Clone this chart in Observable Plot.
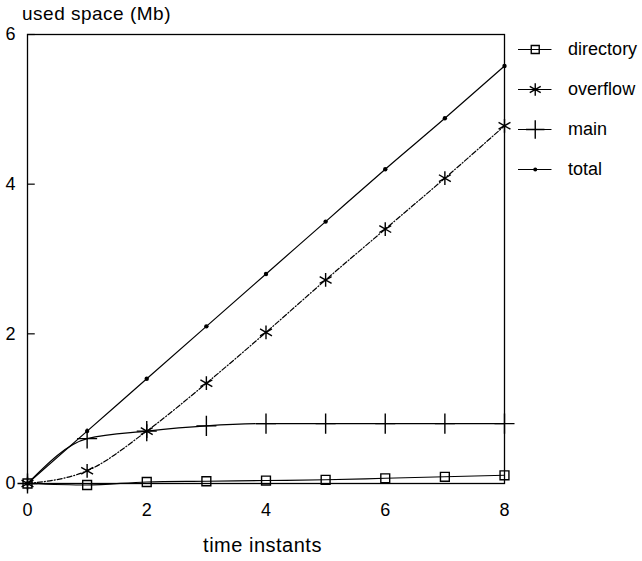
<!DOCTYPE html>
<html><head><meta charset="utf-8">
<script src="https://cdn.jsdelivr.net/npm/d3@7"></script>
<script src="https://cdn.jsdelivr.net/npm/@observablehq/plot@0.6"></script>
<style>
body{margin:0;background:#fff;font-family:"Liberation Sans",Arial,sans-serif;}
#wrap{position:relative;width:642px;height:561px;}
#title{position:absolute;left:22px;top:3px;font-size:19px;letter-spacing:0.5px;}
#xlabel{position:absolute;left:0;width:525px;text-align:center;top:534px;font-size:20px;letter-spacing:0.5px;}
#legend{position:absolute;left:512px;top:30px;}
</style></head>
<body><div id="wrap"><div id="chart"></div><div id="title">used space (Mb)</div><div id="xlabel">time instants</div><div id="legend"></div></div>
<script>
const instants = [0,1,2,3,4,5,6,7,8];
const series = ["directory","overflow","main","total"];
const directory = [0,-0.02,0.02,0.03,0.04,0.05,0.07,0.09,0.11];
const overflow = [0,0.17,0.7,1.34,2.02,2.72,3.4,4.08,4.78];
const main = [0,0.6,0.7,0.77,0.8,0.8,0.8,0.8,0.8];
const total = [0,0.7,1.4,2.1,2.8,3.5,4.2,4.88,5.58];
const xTicks = [0,2,4,6,8];
const yTicks = [0,2,4,6];

const values = {directory, overflow, main, total};
const symbols = {directory:"square", overflow:"asterisk", main:"plus", total:"circle"};
const sizes = {directory:5, overflow:6.5, main:6.5, total:2.2};
const dashes = {directory:null, overflow:"5,2,1,2", main:null, total:null};
const data = series.flatMap(s => instants.map((t,i)=>({s, t, v: values[s][i]})));

const marks = [
  Plot.frame({stroke:"#000", strokeWidth:1.3}),
  Plot.ruleY(yTicks, {x1:0, x2:0.13, stroke:"#000", strokeWidth:1.2}),
  Plot.axisY({ticks:yTicks, tickSize:0, tickPadding:12, fontSize:18, tickFormat:d=>d, label:null}),
  Plot.axisX({ticks:xTicks, tickSize:0, tickPadding:20, fontSize:18, tickFormat:d=>d, label:null})
];
for (const s of series) {
  const d = data.filter(r=>r.s===s);
  marks.push(Plot.line(d, {x:"t", y:"v", curve:"monotone-x", stroke:"#000", strokeWidth:1.2, strokeDasharray:dashes[s]}));
  if (s==="total") marks.push(Plot.dot(d, {x:"t", y:"v", r:sizes[s], fill:"#000"}));
  else marks.push(Plot.dot(d, {x:"t", y:"v", symbol:symbols[s], r:sizes[s], stroke:"#000", strokeWidth:1.4, fill:"none"}));
}

const chart = Plot.plot({
  width:642, height:561,
  marginLeft:27, marginRight:138, marginTop:34, marginBottom:78,
  x:{domain:[0,8]}, y:{domain:[0,6]},
  style:{fontFamily:"Liberation Sans, Arial, sans-serif", color:"#000", background:"#fff"},
  marks
});
document.getElementById("chart").append(chart);

const leg = series.map(s=>({s}));
const legMarks = [
  Plot.ruleY(leg, {y:"s", x1:0, x2:0.27, stroke:"#000", strokeWidth:1.2, strokeDasharray:d=>dashes[d.s]}),
  Plot.text(leg, {x:0.4, y:"s", text:"s", textAnchor:"start", fontSize:18})
];
for (const s of series) {
  const d = leg.filter(r=>r.s===s);
  if (s==="total") legMarks.push(Plot.dot(d, {x:0.135, y:"s", r:2, fill:"#000"}));
  else legMarks.push(Plot.dot(d, {x:0.135, y:"s", symbol:symbols[s], r:s==="directory"?4.5:6, stroke:"#000", fill:"none", strokeWidth:1.4}));
}
const legend = Plot.plot({
  width:130, height:160, marginLeft:6, marginRight:0, marginTop:19, marginBottom:21,
  x:{domain:[0,1], axis:null}, y:{domain:series, type:"point", padding:0, axis:null},
  style:{fontFamily:"Liberation Sans, Arial, sans-serif", color:"#000", background:"transparent"},
  marks:legMarks
});
document.getElementById("legend").append(legend);
</script></body></html>
